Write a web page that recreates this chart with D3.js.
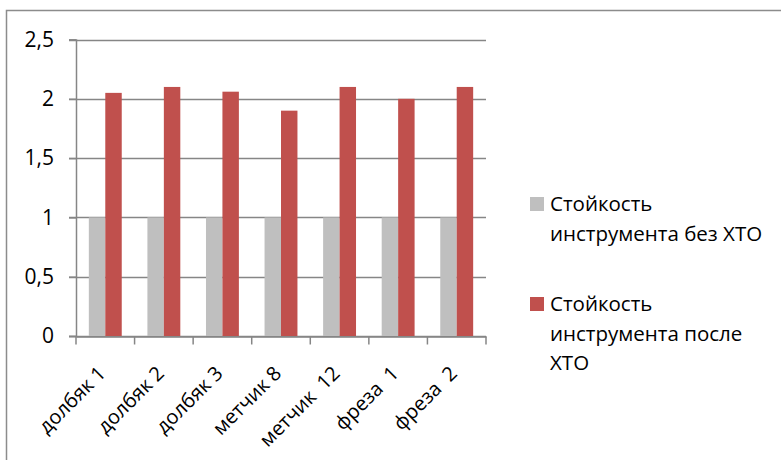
<!DOCTYPE html>
<html><head><meta charset="utf-8">
<script src="https://cdn.jsdelivr.net/npm/d3@7"></script>
<style>body{margin:0;background:#fff}svg{display:block}text{font-family:"Open Sans",sans-serif;fill:#000}</style>
</head><body><svg id="c" width="781" height="460"></svg>
<script>
const categories = ["долбяк 1","долбяк 2","долбяк 3","метчик 8","метчик  12","фреза  1","фреза  2"];
const seriesNames = ["Стойкость инструмента без ХТО","Стойкость инструмента после ХТО"];
const withoutXTO = [1,1,1,1,1,1,1];
const afterXTO = [2.05,2.1,2.06,1.9,2.1,2.0,2.1];
const yTicks = [0,0.5,1,1.5,2,2.5];
const yTickLabels = ["0","0,5","1","1,5","2","2,5"];
const legendLines = [["Стойкость","инструмента без ХТО"],["Стойкость","инструмента после","ХТО"]];
const colors = ["#BFBFBF","#C0504D"];

const svg = d3.select("#c");
const m = {l:76, r:486, t:39.5, b:336};
svg.append("rect").attr("x",6.5).attr("y",10.5).attr("width",800).attr("height",500)
  .attr("fill","#fff").attr("stroke","#8c8c8c").attr("stroke-width",1.5);

const x = d3.scaleBand().domain(categories).range([m.l,m.r]).paddingInner(0).paddingOuter(0);
const xs = d3.scaleBand().domain([0,1]).range([0,x.bandwidth()]).paddingInner(0).paddingOuter(0.78);
const y = d3.scaleLinear().domain([0,2.5]).range([m.b,m.t]);

// gridlines
const grid = svg.append("g");
grid.selectAll("line").data(yTicks).join("line")
  .attr("x1",69).attr("x2",m.r).attr("y1",d=>Math.round(y(d))+0.5).attr("y2",d=>Math.round(y(d))+0.5)
  .attr("stroke","#868686").attr("stroke-width",1.5);

const data = [withoutXTO, afterXTO];
data.forEach((arr,si)=>{
  svg.append("g").selectAll("rect").data(arr).join("rect")
    .attr("x",(d,i)=>x(categories[i])+xs(si))
    .attr("width",xs.bandwidth())
    .attr("y",d=>y(d)).attr("height",d=>y(0)-y(d))
    .attr("fill",colors[si]);
});

// y axis
const ya = svg.append("g").attr("transform",`translate(${m.l},0)`)
  .call(d3.axisLeft(y).tickValues(yTicks).tickFormat((d,i)=>yTickLabels[i]).tickSize(7).tickPadding(15));
ya.select(".domain").attr("stroke","#868686").attr("stroke-width",1.5);
ya.selectAll(".tick line").attr("stroke","#868686").attr("stroke-width",1.5);
ya.selectAll("text").style("font-size","21px").attr("fill","#000");

// x axis
const xa = svg.append("g").attr("transform",`translate(0,${Math.round(y(0))+0.5})`)
  .call(d3.axisBottom(x).tickSize(0).tickFormat(""));
xa.select(".domain").attr("stroke","#868686").attr("stroke-width",1.5);
const bounds = categories.map(c=>x(c)).concat([m.r]);
xa.selectAll(".bt").data(bounds).join("line").attr("class","bt")
  .attr("x1",d=>d).attr("x2",d=>d).attr("y1",0).attr("y2",8)
  .attr("stroke","#868686").attr("stroke-width",1.5);
svg.append("g").selectAll("text").data(categories).join("text")
  .attr("transform",d=>`translate(${x(d)+x.bandwidth()/2-9},${364}) rotate(-45)`)
  .attr("text-anchor","end").attr("dy","0.75em").style("font-size","20px")
  .style("white-space","pre").text(d=>d);

// legend
const lg = svg.append("g");
const legY = [197, 297];
legendLines.forEach((lines,i)=>{
  lg.append("rect").attr("x",530).attr("y",legY[i]).attr("width",14).attr("height",14).attr("fill",colors[i]);
  lines.forEach((t,j)=>{
    lg.append("text").attr("x",550).attr("y",legY[i]+7+j*29.5).attr("dy","0.35em")
      .style("font-size","20.5px").text(t);
  });
});
</script></body></html>
